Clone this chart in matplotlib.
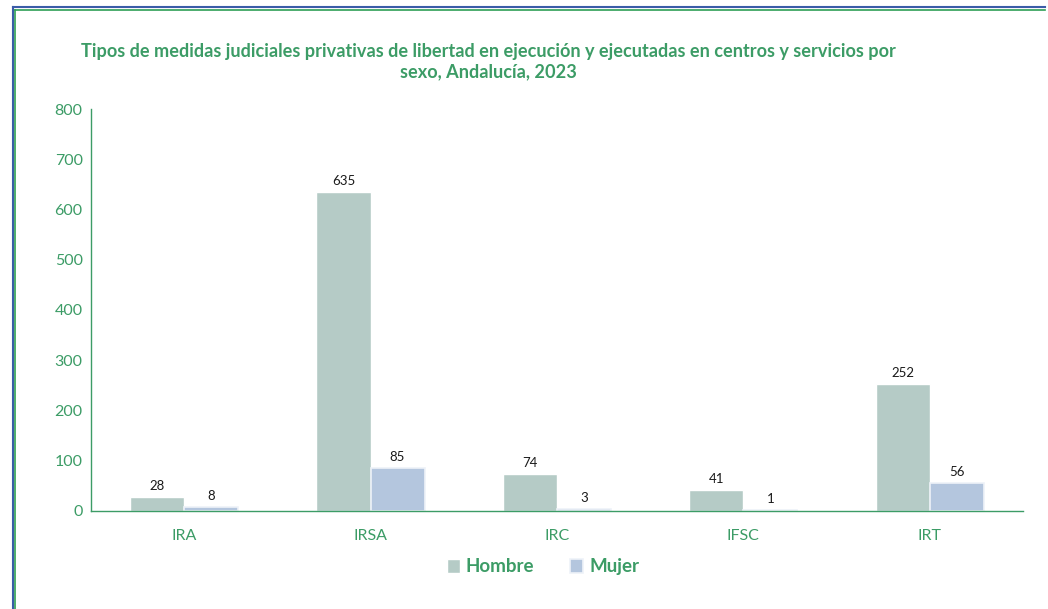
import numpy as np
import matplotlib
matplotlib.use("Agg")
import matplotlib.pyplot as plt
from matplotlib.lines import Line2D

categorias = ["IRA", "IRSA", "IRC", "IFSC", "IRT"]
hombre = [28, 635, 74, 41, 252]
mujer = [8, 85, 3, 1, 56]
y_ticks = [0, 100, 200, 300, 400, 500, 600, 700, 800]

verde = "#3c9c66"
col_h = "#b5cbc6"
col_m = "#b4c6de"

plt.rcParams['font.family'] = ['Lato', 'DejaVu Sans']

fig = plt.figure(figsize=(10.48, 6.09), dpi=100)
ax = fig.add_axes([0.0868, 0.161, 0.8892, 0.66])

x = np.arange(len(categorias))
w = 0.29
b1 = ax.bar(x - w/2, hombre, w, color=col_h, edgecolor="white", linewidth=1, label="Hombre")
b2 = ax.bar(x + w/2, mujer, w, color=col_m, edgecolor="#eef2f8", linewidth=1.2, label="Mujer")

for bars in (b1, b2):
    for r in bars:
        ax.text(r.get_x() + r.get_width()/2, r.get_height() + 10, str(int(r.get_height())),
                ha="center", va="bottom", fontsize=9.5, color="#1a1a1a")

ax.set_xlim(-0.5, 4.5)
ax.set_ylim(0, 800)
ax.set_yticks(y_ticks)
ax.set_xticks(x)
ax.set_xticklabels(categorias)
ax.tick_params(axis="both", length=0, colors=verde, labelsize=11.5)
ax.tick_params(axis="x", pad=13)
ax.tick_params(axis="y", pad=6)
for s in ("top", "right"):
    ax.spines[s].set_visible(False)
for s in ("left", "bottom"):
    ax.spines[s].set_color(verde)
    ax.spines[s].set_linewidth(1)

fig.text(0.466, 0.899, "Tipos de medidas judiciales privativas de libertad en ejecución y ejecutadas en centros y servicios por\nsexo, Andalucía, 2023",
         ha="center", va="center", fontsize=13.1, fontweight="bold", color=verde, linespacing=1.2)

leg = fig.legend(handles=[b1, b2], labels=["Hombre", "Mujer"], loc="center", bbox_to_anchor=(0.518, 0.069),
                 ncol=2, frameon=False, handlelength=0.72, handleheight=0.72, columnspacing=1.9,
                 handletextpad=0.3, prop={"weight": "bold", "size": 13.5})
for t in leg.get_texts():
    t.set_color(verde)

# frame lines
fig.add_artist(Line2D([13/1048, 1045/1048], [1 - 7/609, 1 - 7/609], color="#3b5ca8", lw=1.5))
fig.add_artist(Line2D([15/1048, 1045/1048], [1 - 9.5/609, 1 - 9.5/609], color="#2e9e55", lw=1.2))
fig.add_artist(Line2D([13/1048, 13/1048], [0, 1 - 7/609], color="#3b5ca8", lw=1.5))
fig.add_artist(Line2D([15/1048, 15/1048], [0, 1 - 9.5/609], color="#2e9e55", lw=1.2))

fig.savefig("out.png", dpi=100)
